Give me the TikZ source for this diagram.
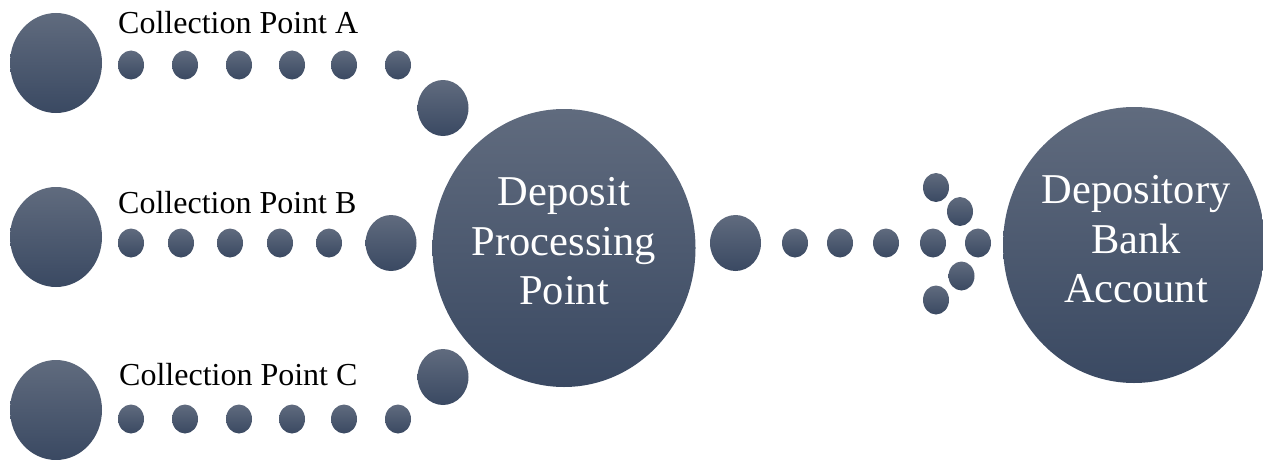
\documentclass[tikz,border=0pt]{standalone}
\usepackage{fontspec}
\setmainfont{Liberation Serif}
\usetikzlibrary{shapes.geometric}
\definecolor{topc}{RGB}{96,107,126}
\definecolor{botc}{RGB}{58,73,98}
\begin{document}
\begin{tikzpicture}[x=1pt,y=-1pt,
 blob/.style={ellipse, inner sep=0pt, outer sep=0pt, top color=topc, bottom color=botc, draw=none},
 dotS/.style={blob, minimum width=26pt, minimum height=29pt},
 dotM/.style={blob, minimum width=51pt, minimum height=56pt},
 dotL/.style={blob, minimum width=92pt, minimum height=100pt},
 hub/.style={blob, minimum width=263pt, minimum height=278pt},
 lbl/.style={font=\fontsize{32}{38}\selectfont, anchor=base west, inner sep=0pt},
 htext/.style={font=\fontsize{42.5}{49.5}\selectfont, text=white, align=center, inner sep=0pt}]
\useasboundingbox (0,0) rectangle (1263,460);

% sources
\node[dotL] (srcA) at (56,63) {};
\node[dotL] (srcB) at (56,237) {};
\node[dotL] (srcC) at (56,410) {};

\node[lbl] (lblA) at (118,34) {Collection Point A};
\node[lbl] (lblB) at (118,213) {Collection Point B};
\node[lbl] (lblC) at (119,385) {Collection Point C};

% row A
\foreach \x [count=\i] in {131,185,239,292,344,398}
  \node[dotS] (a\i) at (\x,65) {};
\node[dotM] (aM) at (443,108) {};
% row B
\foreach \x [count=\i] in {131,181,230,280,329}
  \node[dotS] (b\i) at (\x,243) {};
\node[dotM] (bM) at (391,243) {};
% row C
\foreach \x [count=\i] in {131,185,239,292,344,398}
  \node[dotS] (c\i) at (\x,419) {};
\node[dotM] (cM) at (443,377) {};

% hub
\node[hub] (dpp) at (564,248) {};
\node[htext] (dpptext) at (564,241.5) {Deposit\\Processing\\Point};

% arrow to bank
\node[dotM] (rM) at (735.5,243) {};
\foreach \x [count=\i] in {795,840,886,933,978}
  \node[dotS] (r\i) at (\x,243) {};
\node[dotS] (u1) at (936,187.5) {};
\node[dotS] (u2) at (960,211.5) {};
\node[dotS] (l1) at (961.5,276) {};
\node[dotS] (l2) at (936,300) {};

% bank
\node[blob, minimum width=262pt, minimum height=276pt] (bank) at (1134,245) {};
\node[htext] (banktext) at (1136,239.5) {Depository\\Bank\\Account};
\end{tikzpicture}
\end{document}
